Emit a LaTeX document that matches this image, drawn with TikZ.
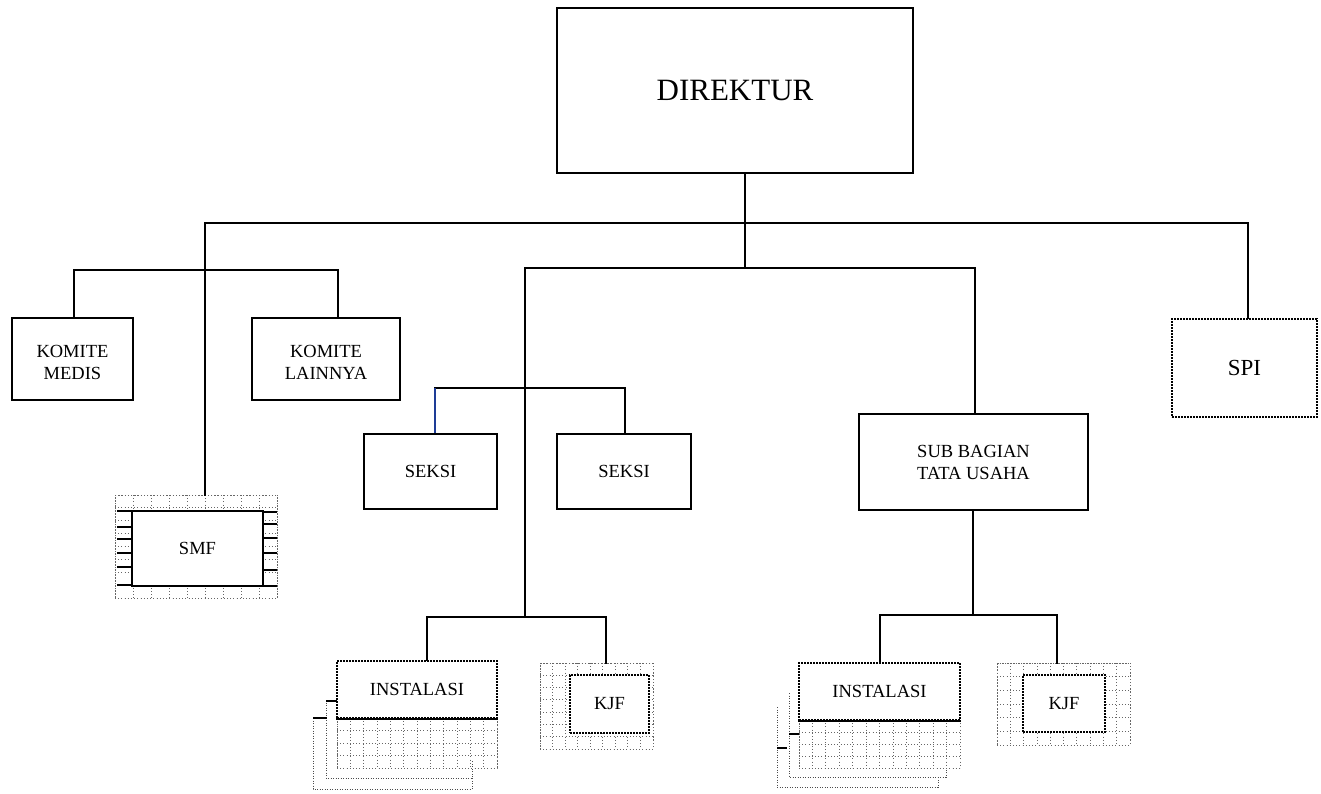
\documentclass[tikz,border=0pt]{standalone}
\usepackage{fontspec}
\setmainfont{Liberation Serif}
\definecolor{seksiblue}{RGB}{30,60,150}
\begin{document}
\begin{tikzpicture}[x=1pt,y=-1pt,
  conn/.style={line width=2.1pt, line cap=rect},
  box/.style={draw, line width=2.1pt, fill=white, align=center, inner sep=0pt,
              font=\fontsize{18.5}{22}\selectfont},
  dotbox/.style={box, line width=2pt, dash pattern=on 1.6pt off 1.4pt},
  gridarea/.style={inner sep=0pt, draw=black!60, line width=0.8pt, dash pattern=on 1pt off 2.2pt},
  gridline/.style={draw=black!60, line width=0.8pt, dash pattern=on 1pt off 2.2pt},
  shadowline/.style={draw=black!70, line width=0.9pt, dash pattern=on 1pt off 1.5pt},
  tickline/.style={line width=2.1pt}]
\useasboundingbox (0,0) rectangle (1321,793);

% ---------- grids (drawn first) ----------
% SMF grid
\node[gridarea, minimum width=162pt, minimum height=103pt] (smfg) at (196,546.5) {};
\foreach \i [evaluate=\i as \x using 115+\i*18] in {0,...,9}
  \draw[gridline] (\x,495) -- (\x,598);
\foreach \i [evaluate=\i as \y using 495+\i*12.875] in {0,...,8}
  \draw[gridline] (115,\y) -- (277,\y);
% KJF 1 grid
\node[gridarea, minimum width=113pt, minimum height=86pt] (kjf1g) at (596.5,706) {};
\foreach \i [evaluate=\i as \x using 540+\i*12.555] in {0,...,9}
  \draw[gridline] (\x,663) -- (\x,749);
\foreach \i [evaluate=\i as \y using 663+\i*12.285] in {0,...,7}
  \draw[gridline] (540,\y) -- (653,\y);
% KJF 2 grid
\node[gridarea, minimum width=133pt, minimum height=82pt] (kjf2g) at (1063.5,704) {};
\foreach \i [evaluate=\i as \x using 997+\i*13.3] in {0,...,10}
  \draw[gridline] (\x,663) -- (\x,745);
\foreach \i [evaluate=\i as \y using 663+\i*13.667] in {0,...,6}
  \draw[gridline] (997,\y) -- (1130,\y);

% INSTALASI 1 shadows and grid
\draw[shadowline] (326,700) -- (326,778) -- (472,778) -- (472,760);
\draw[shadowline] (313,718) -- (313,789) -- (472,789) -- (472,778);
\draw[tickline] (326,701) -- (337,701);
\draw[tickline] (313,718) -- (327,718);
\node[gridarea, minimum width=160pt, minimum height=50pt] (inst1g) at (417,743) {};
\foreach \i [evaluate=\i as \x using 337+\i*13.333] in {0,...,12}
  \draw[gridline] (\x,718) -- (\x,768);
\foreach \i [evaluate=\i as \y using 718+\i*12.5] in {0,...,4}
  \draw[gridline] (337,\y) -- (497,\y);
% INSTALASI 2 shadows and grid
\draw[shadowline] (789,693) -- (789,777) -- (946,777) -- (946,768);
\draw[shadowline] (777,707) -- (777,787) -- (938,787) -- (938,777);
\draw[tickline] (789,734) -- (800,734);
\draw[tickline] (777,748) -- (787,748);
\node[gridarea, minimum width=161pt, minimum height=48pt] (inst2g) at (879.5,744) {};
\foreach \i [evaluate=\i as \x using 799+\i*13.417] in {0,...,12}
  \draw[gridline] (\x,720) -- (\x,768);
\foreach \i [evaluate=\i as \y using 720+\i*12] in {0,...,4}
  \draw[gridline] (799,\y) -- (960,\y);

% SMF ticks
\foreach \y in {511,527,539,553,567,585}
  \draw[tickline] (117,\y) -- (132,\y);
\foreach \y in {512,524,538,553,570,586}
  \draw[tickline] (263,\y) -- (277,\y);

% ---------- nodes ----------
\node[box, minimum width=356pt, minimum height=165pt, font=\fontsize{31}{36}\selectfont] (dir) at (735,90.5) {DIREKTUR};
\node[box, minimum width=121pt, minimum height=82pt] (km) at (72.5,359) {\raisebox{-9.5pt}[0pt][0pt]{\begin{tabular}{@{}c@{}}KOMITE\\MEDIS\end{tabular}}};
\node[box, minimum width=148pt, minimum height=82pt] (kl) at (326,359) {\raisebox{-9.5pt}[0pt][0pt]{\begin{tabular}{@{}c@{}}KOMITE\\LAINNYA\end{tabular}}};
\node[dotbox, minimum width=145pt, minimum height=98pt, font=\fontsize{23}{26}\selectfont] (spi) at (1244.5,368) {SPI};
\node[box, minimum width=133pt, minimum height=75pt] (s1) at (430.5,471.5) {SEKSI};
\node[box, minimum width=134pt, minimum height=75pt] (s2) at (624,471.5) {SEKSI};
\node[box, minimum width=229pt, minimum height=96pt] (sub) at (973.5,462) {SUB BAGIAN\\TATA USAHA};
\node[box, minimum width=131pt, minimum height=75pt] (smf) at (197.5,548.5) {SMF};
\node[dotbox, minimum width=160pt, minimum height=57pt] (inst1) at (417,689.5) {INSTALASI};
\draw[tickline] (inst1.south west) -- (inst1.south east);
\node[dotbox, minimum width=79pt, minimum height=58pt] (kjf1) at (609.5,704) {KJF};
\node[dotbox, minimum width=161pt, minimum height=57pt] (inst2) at (879.5,691.5) {INSTALASI};
\draw[tickline] (inst2.south west) -- (inst2.south east);
\node[dotbox, minimum width=82pt, minimum height=57pt] (kjf2) at (1064,703.5) {KJF};

% ---------- connectors ----------
\coordinate (busL) at (205,223);
\coordinate (busR) at (1248,223);
\coordinate (hubL) at (525,268);
\coordinate (hubR) at (975,268);
\coordinate (hub) at (745,268);
\draw[conn] (dir.south -| hub) -- (hub);
\draw[conn] (busL) -- (busR);
\draw[conn] (busL) -- (smfg.north -| busL);
\draw[conn] (busR) -- (spi.north -| busR);
\draw[conn] (hubL) -- (hubR);
\draw[conn] (hubR) -- (sub.north -| hubR);

% komite bracket
\coordinate (kmT) at (74,270);
\coordinate (klT) at (338,270);
\draw[conn] (km.north -| kmT) -- (kmT) -- (klT) -- (kl.north -| klT);

% seksi bracket
\coordinate (s1T) at (435,388);
\coordinate (s2T) at (625,388);
\draw[conn] (s1T) -- (s2T) -- (s2.north -| s2T);
\draw[line width=2.1pt, seksiblue] (s1T) -- (s1.north -| s1T);

% lower left bracket
\coordinate (lbC) at (525,617);
\coordinate (lbL) at (427,617);
\coordinate (lbR) at (606,617);
\draw[conn] (hubL) -- (lbC);
\draw[conn] (lbL) -- (lbR);
\draw[conn] (lbL) -- (inst1.north -| lbL);
\draw[conn] (lbR) -- (kjf1g.north -| lbR);

% lower right bracket
\coordinate (rbC) at (973,615);
\coordinate (rbL) at (880,615);
\coordinate (rbR) at (1057,615);
\draw[conn] (sub.south -| rbC) -- (rbC);
\draw[conn] (rbL) -- (rbR);
\draw[conn] (rbL) -- (inst2.north -| rbL);
\draw[conn] (rbR) -- (kjf2g.north -| rbR);
\end{tikzpicture}
\end{document}
